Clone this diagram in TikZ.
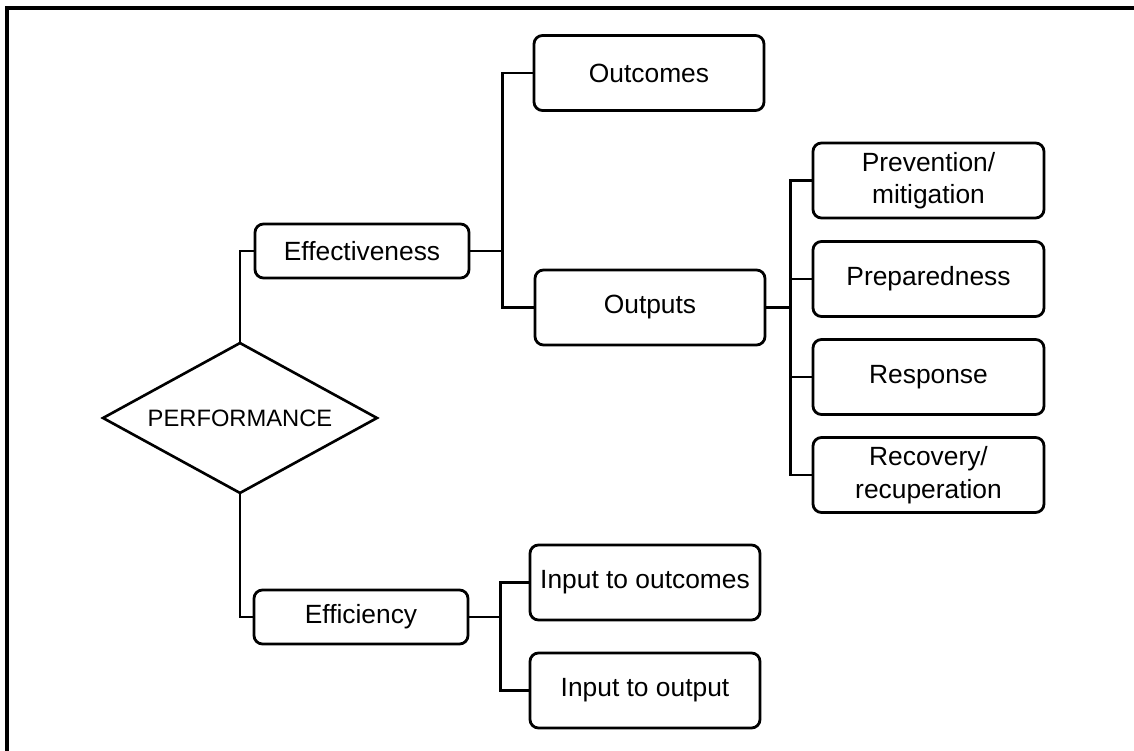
\documentclass[tikz,border=0pt]{standalone}
\usepackage{fontspec}
\setmainfont{Liberation Sans}
\usetikzlibrary{shapes.geometric}

\begin{document}
\begin{tikzpicture}[
	box/.style={draw,line width=1.6pt,rounded corners=0.17cm,align=center,
		minimum width=4.6cm,minimum height=1.5cm,inner sep=0pt,
		font=\fontsize{15}{18.5}\selectfont},
	smallbox/.style={box,minimum width=4.28cm,minimum height=1.08cm},
	link/.style={line width=1.6pt,line cap=rect}]
	\useasboundingbox (0,0) rectangle (22.68,-15.02);
	% frame
	\draw [line width=1.8pt] (0.14,-15.02) -- (0.14,-0.16) -- (22.68,-0.16);

	\node [draw,diamond,line width=1.5pt,aspect=1.82,inner sep=0pt,
		minimum width=5.5cm,minimum height=3.02cm,
		font=\fontsize{13.5}{16}\selectfont] (PERF) at (4.8,-8.36) {PERFORMANCE};

	\node [smallbox] (EFFE) at (7.24,-5.02) {Effectiveness};
	\node [smallbox] (EFFI) at (7.22,-12.34) {Efficiency};

	\node [box] (OUTC) at (12.98,-1.46) {Outcomes};
	\node [box] (OUTP) at (13.0,-6.15) {Outputs};

	\node [box,minimum width=4.62cm] (PREV) at (18.57,-3.61) {Prevention/\\mitigation};
	\node [box,minimum width=4.62cm] (PREP) at (18.57,-5.58) {Preparedness};
	\node [box,minimum width=4.62cm] (RESP) at (18.57,-7.54) {Response};
	\node [box,minimum width=4.62cm] (RECO) at (18.57,-9.5) {Recovery/\\recuperation};

	\node [box] (IOUT) at (12.9,-11.65) {Input to outcomes};
	\node [box] (IOUP) at (12.9,-13.81) {Input to output};

	% branches
	\draw [link] (PERF.north) |- (EFFE.west);
	\draw [link] (PERF.south) |- (EFFI.west);

	\draw [link] (EFFE.east) -- ++(0.64,0) coordinate (J1);
	\draw [link] (OUTC.west) -| (J1) |- (OUTP.west);

	\draw [link] (OUTP.east) -- ++(0.48,0) coordinate (J2);
	\draw [link] (PREV.west) -| (J2) |- (RECO.west);
	\draw [link] (PREP.west) -- (PREP.west -| J2);
	\draw [link] (RESP.west) -- (RESP.west -| J2);

	\draw [link] (EFFI.east) -- ++(0.62,0) coordinate (J3);
	\draw [link] (IOUT.west) -| (J3) |- (IOUP.west);
\end{tikzpicture}
\end{document}
